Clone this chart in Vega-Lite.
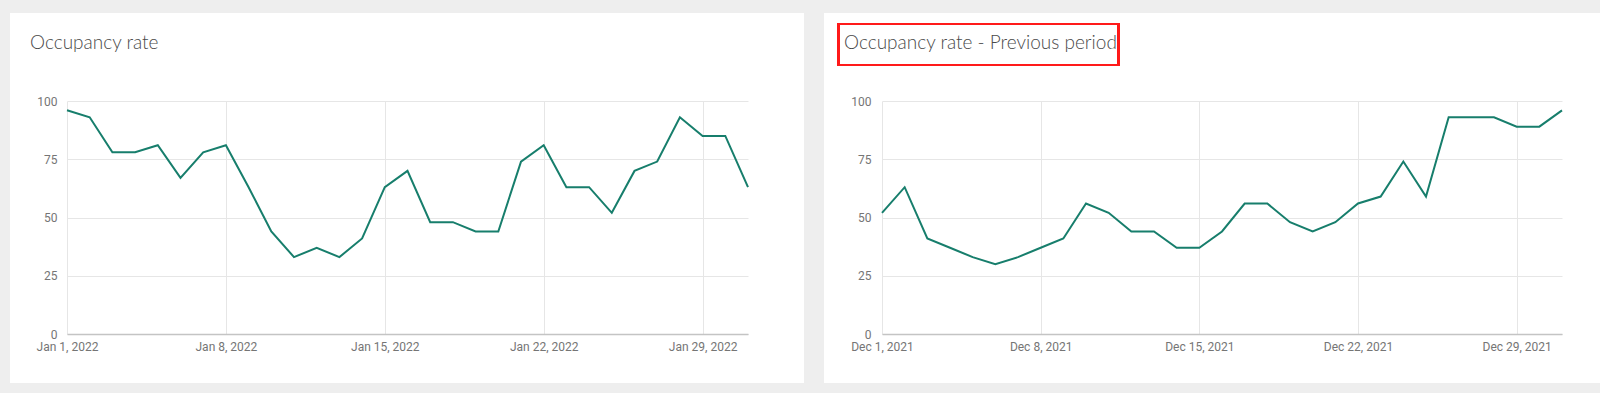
{
  "$schema": "https://vega.github.io/schema/vega-lite/v6.json",
  "background": "#eeeeee",
  "padding": {"left": 10, "top": 13, "right": 0, "bottom": 10},
  "spacing": 20,
  "config": {
    "view": {"fill": "white", "stroke": null},
    "title": {"font": "Lato", "fontWeight": 300, "fontSize": 19, "color": "#4a4a4a", "anchor": "start", "frame": "group", "baseline": "alphabetic", "offset": -40, "dx": 20},
    "axis": {"labelFont": "Roboto", "labelFontSize": 12, "labelColor": "#757575", "gridColor": "#e6e6e6", "gridWidth": 1, "ticks": false, "title": null, "labelFlush": false, "labelOverlap": false}
  },
  "datasets": {
    "jan": [
      {"date": "2022/01/01", "rate": 96}, {"date": "2022/01/02", "rate": 93}, {"date": "2022/01/03", "rate": 78},
      {"date": "2022/01/04", "rate": 78}, {"date": "2022/01/05", "rate": 81}, {"date": "2022/01/06", "rate": 67},
      {"date": "2022/01/07", "rate": 78}, {"date": "2022/01/08", "rate": 81}, {"date": "2022/01/09", "rate": 63},
      {"date": "2022/01/10", "rate": 44}, {"date": "2022/01/11", "rate": 33}, {"date": "2022/01/12", "rate": 37},
      {"date": "2022/01/13", "rate": 33}, {"date": "2022/01/14", "rate": 41}, {"date": "2022/01/15", "rate": 63},
      {"date": "2022/01/16", "rate": 70}, {"date": "2022/01/17", "rate": 48}, {"date": "2022/01/18", "rate": 48},
      {"date": "2022/01/19", "rate": 44}, {"date": "2022/01/20", "rate": 44}, {"date": "2022/01/21", "rate": 74},
      {"date": "2022/01/22", "rate": 81}, {"date": "2022/01/23", "rate": 63}, {"date": "2022/01/24", "rate": 63},
      {"date": "2022/01/25", "rate": 52}, {"date": "2022/01/26", "rate": 70}, {"date": "2022/01/27", "rate": 74},
      {"date": "2022/01/28", "rate": 93}, {"date": "2022/01/29", "rate": 85}, {"date": "2022/01/30", "rate": 85},
      {"date": "2022/01/31", "rate": 63}
    ],
    "dec": [
      {"date": "2021/12/01", "rate": 52}, {"date": "2021/12/02", "rate": 63}, {"date": "2021/12/03", "rate": 41},
      {"date": "2021/12/04", "rate": 37}, {"date": "2021/12/05", "rate": 33}, {"date": "2021/12/06", "rate": 30},
      {"date": "2021/12/07", "rate": 33}, {"date": "2021/12/08", "rate": 37}, {"date": "2021/12/09", "rate": 41},
      {"date": "2021/12/10", "rate": 56}, {"date": "2021/12/11", "rate": 52}, {"date": "2021/12/12", "rate": 44},
      {"date": "2021/12/13", "rate": 44}, {"date": "2021/12/14", "rate": 37}, {"date": "2021/12/15", "rate": 37},
      {"date": "2021/12/16", "rate": 44}, {"date": "2021/12/17", "rate": 56}, {"date": "2021/12/18", "rate": 56},
      {"date": "2021/12/19", "rate": 48}, {"date": "2021/12/20", "rate": 44}, {"date": "2021/12/21", "rate": 48},
      {"date": "2021/12/22", "rate": 56}, {"date": "2021/12/23", "rate": 59}, {"date": "2021/12/24", "rate": 74},
      {"date": "2021/12/25", "rate": 59}, {"date": "2021/12/26", "rate": 93}, {"date": "2021/12/27", "rate": 93},
      {"date": "2021/12/28", "rate": 93}, {"date": "2021/12/29", "rate": 89}, {"date": "2021/12/30", "rate": 89},
      {"date": "2021/12/31", "rate": 96}
    ]
  },
  "hconcat": [
    {
      "title": "Occupancy rate",
      "width": 794,
      "height": 370,
      "data": {"name": "jan"},
      "resolve": {"axis": {"x": "independent", "y": "independent"}},
      "layer": [
        {
          "mark": {"type": "point", "opacity": 0},
          "encoding": {
            "x": {
              "field": "date", "type": "temporal",
              "scale": {"domain": [{"year": 2022, "month": 1, "date": 1}, {"year": 2022, "month": 1, "date": 31}], "range": [57, 738], "nice": false},
              "axis": {"orient": "top", "offset": 0, "grid": true, "labels": false, "domain": false, "ticks": false, "values": [{"year": 2022, "month": 1, "date": 1}, {"year": 2022, "month": 1, "date": 8}, {"year": 2022, "month": 1, "date": 15}, {"year": 2022, "month": 1, "date": 22}, {"year": 2022, "month": 1, "date": 29}]}
            },
            "y": {
              "field": "rate", "type": "quantitative",
              "scale": {"domain": [0, 100], "range": [321, 88], "nice": false, "zero": true},
              "axis": {"orient": "left", "offset": 0, "grid": true, "labels": false, "domain": false, "ticks": false, "values": [0, 25, 50, 75, 100]}
            }
          }
        },
        {
          "mark": {"type": "line", "color": "#177e6c", "strokeWidth": 2},
          "encoding": {
            "x": {
              "field": "date", "type": "temporal",
              "axis": {"orient": "bottom", "offset": -49, "grid": false, "domain": true, "domainColor": "#c4c4c4", "domainWidth": 1.5, "labelPadding": 7, "format": "%b %-d, %Y", "values": [{"year": 2022, "month": 1, "date": 1}, {"year": 2022, "month": 1, "date": 8}, {"year": 2022, "month": 1, "date": 15}, {"year": 2022, "month": 1, "date": 22}, {"year": 2022, "month": 1, "date": 29}]}
            },
            "y": {
              "field": "rate", "type": "quantitative",
              "axis": {"orient": "left", "offset": -57, "grid": false, "domain": false, "labelPadding": 10, "values": [0, 25, 50, 75, 100]}
            }
          }
        }
      ]
    },
    {
      "title": "Occupancy rate - Previous period",
      "width": 776,
      "height": 370,
      "data": {"name": "dec"},
      "resolve": {"axis": {"x": "independent", "y": "independent"}},
      "layer": [
        {
          "mark": {"type": "point", "opacity": 0},
          "encoding": {
            "x": {
              "field": "date", "type": "temporal",
              "scale": {"domain": [{"year": 2021, "month": 12, "date": 1}, {"year": 2021, "month": 12, "date": 31}], "range": [58, 738], "nice": false},
              "axis": {"orient": "top", "offset": 0, "grid": true, "labels": false, "domain": false, "ticks": false, "values": [{"year": 2021, "month": 12, "date": 1}, {"year": 2021, "month": 12, "date": 8}, {"year": 2021, "month": 12, "date": 15}, {"year": 2021, "month": 12, "date": 22}, {"year": 2021, "month": 12, "date": 29}]}
            },
            "y": {
              "field": "rate", "type": "quantitative",
              "scale": {"domain": [0, 100], "range": [321, 88], "nice": false, "zero": true},
              "axis": {"orient": "left", "offset": 0, "grid": true, "labels": false, "domain": false, "ticks": false, "values": [0, 25, 50, 75, 100]}
            }
          }
        },
        {
          "mark": {"type": "line", "color": "#177e6c", "strokeWidth": 2},
          "encoding": {
            "x": {
              "field": "date", "type": "temporal",
              "axis": {"orient": "bottom", "offset": -49, "grid": false, "domain": true, "domainColor": "#c4c4c4", "domainWidth": 1.5, "labelPadding": 7, "format": "%b %-d, %Y", "values": [{"year": 2021, "month": 12, "date": 1}, {"year": 2021, "month": 12, "date": 8}, {"year": 2021, "month": 12, "date": 15}, {"year": 2021, "month": 12, "date": 22}, {"year": 2021, "month": 12, "date": 29}]}
            },
            "y": {
              "field": "rate", "type": "quantitative",
              "axis": {"orient": "left", "offset": -57, "grid": false, "domain": false, "labelPadding": 10, "values": [0, 25, 50, 75, 100]}
            }
          }
        },
        {
          "mark": {"type": "rect", "fillOpacity": 0, "stroke": "#ff1a1a", "strokeWidth": 2},
          "encoding": {
            "x": {"datum": {"year": 2021, "month": 11, "date": 29, "hours": 2, "minutes": 10}, "type": "temporal", "axis": null},
            "x2": {"datum": {"year": 2021, "month": 12, "date": 11, "hours": 10, "minutes": 35}},
            "y": {"datum": 133, "type": "quantitative", "axis": null},
            "y2": {"datum": 115.5}
          }
        }
      ]
    }
  ]
}
